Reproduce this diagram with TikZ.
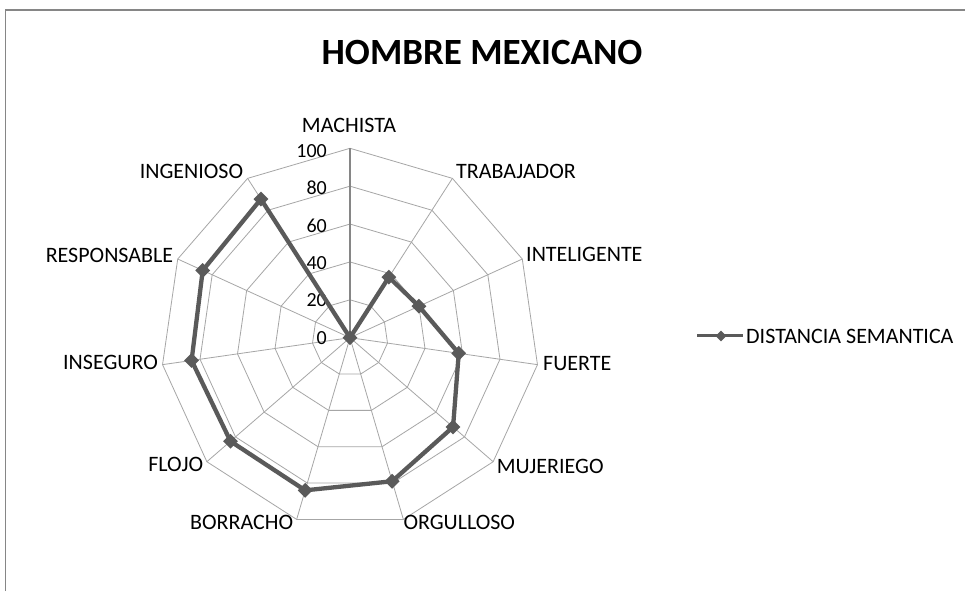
\documentclass[tikz,border=0pt]{standalone}
\usepackage{fontspec}
\setmainfont{Carlito}
\usetikzlibrary{shapes.geometric}
\definecolor{gridc}{HTML}{A6A6A6}
\definecolor{axisc}{HTML}{868686}
\definecolor{datac}{HTML}{5A5A5A}
\begin{document}
\begin{tikzpicture}[x=1pt,y=1pt,
  gridline/.style={draw=gridc, line width=0.8pt},
  mainaxis/.style={draw=axisc, line width=1.3pt},
  series/.style={draw=datac, line width=4.3pt, line join=round},
  marker/.style={diamond, fill=datac, inner sep=0pt, minimum size=15pt},
  catlabel/.style={font=\fontsize{22}{25}\selectfont, inner sep=0pt},
  ticklabel/.style={font=\fontsize{20}{24}\selectfont, inner sep=0pt, anchor=east},
  frameline/.style={draw=axisc, line width=1.8pt}]
\useasboundingbox (0,0) rectangle (965,591);
\fill[white] (0,0) rectangle (965,591);
% frame
\coordinate (fbl) at (5.5,0);
\coordinate (ftl) at (5.5,581);
\coordinate (ftr) at (965,581);
\draw[frameline] (fbl) -- (ftl) -- (ftr);
% title
\node[font=\fontsize{37}{40}\selectfont\bfseries, anchor=base, inner sep=0pt] (title) at (482,526) {HOMBRE MEXICANO};
% radar
\begin{scope}[shift={(350,253.3)}]
  \coordinate (c) at (0,0);
  \foreach \k in {0,...,10} { \coordinate (v\k) at ({90-\k*360/11}:189.4); }
  \foreach \r in {1,...,5} {
    \draw[gridline] (90:\r*37.88) \foreach \k in {1,...,10} { -- ({90-\k*360/11}:\r*37.88) } -- cycle;
  }
  \foreach \k in {1,...,10} { \draw[gridline] (c) -- (v\k); }
  \draw[mainaxis] (c) -- (v0);
  % tick labels
  \foreach \t [count=\j from 0] in {0,20,40,60,80,100} {
    \node[ticklabel] (t\j) at (-23,{\j*37.38}) {\t};
  }
  % data
  \foreach \v [count=\i from 0] in {0,38,40,58,72,79,84,83.5,84.5,85.5,87} {
    \coordinate (d\i) at ({90-\i*360/11}:{1.894*\v});
  }
  \draw[series] (d0) -- (d1) -- (d2) -- (d3) -- (d4) -- (d5) -- (d6) -- (d7) -- (d8) -- (d9) -- (d10) -- cycle;
  \foreach \i in {0,...,10} { \node[marker] (m\i) at (d\i) {}; }
\end{scope}
% category labels
\node[catlabel, anchor=base] (lmach) at (349,458.3) {MACHISTA};
\node[catlabel, anchor=base west] (ltrab) at (456,412.7) {TRABAJADOR};
\node[catlabel, anchor=base west] (lintel) at (526,329.3) {INTELIGENTE};
\node[catlabel, anchor=base west] (lfuer) at (543,220.5) {FUERTE};
\node[catlabel, anchor=base west] (lmuj) at (496.7,117.7) {MUJERIEGO};
\node[catlabel, anchor=base west] (lorg) at (403.3,61) {ORGULLOSO};
\node[catlabel, anchor=base east] (lborr) at (293.3,61) {BORRACHO};
\node[catlabel, anchor=base east] (lflojo) at (203.3,119.3) {FLOJO};
\node[catlabel, anchor=base east] (linseg) at (158,221) {INSEGURO};
\node[catlabel, anchor=base east] (lresp) at (173.3,328.3) {RESPONSABLE};
\node[catlabel, anchor=base east] (ling) at (243.3,412.7) {INGENIOSO};
% legend
\coordinate (lgA) at (697,255);
\coordinate (lgB) at (743,255);
\draw[series, line width=3pt] (lgA) -- (lgB);
\node[marker, minimum size=11pt] (lgm) at (721,255) {};
\node[catlabel, anchor=base west] (lgt) at (746,247.7) {DISTANCIA SEMANTICA};
\end{tikzpicture}
\end{document}
